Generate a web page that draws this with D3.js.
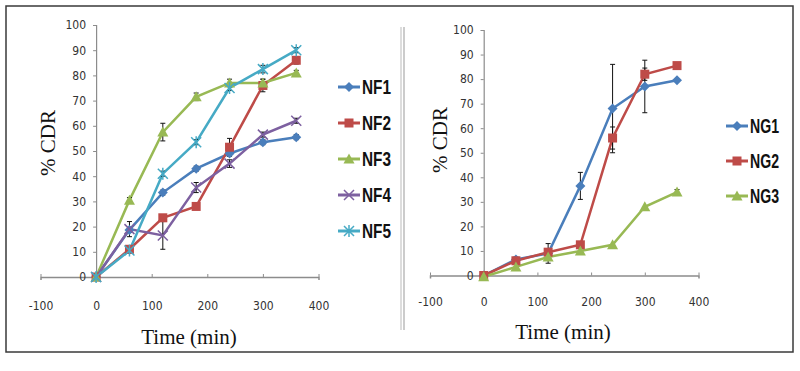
<!DOCTYPE html>
<html>
<head>
<meta charset="utf-8">
<script src="https://cdn.jsdelivr.net/npm/d3@7"></script>
<style>
  body { margin: 0; background: #fff; }
  .tick text { font-family: "Liberation Sans Narrow", "DejaVu Sans Condensed", "Arial Narrow", sans-serif; }
</style>
</head>
<body>
<div class="chart"></div>
<script>
// Drug release profiles, two panels (NF and NG formulations)

var svgWidth = 800;
var svgHeight = 371;

// sampling times (min)
var times = [0, 60, 120, 180, 240, 300, 360];
var xTicks = [-100, 0, 100, 200, 300, 400];
var yTicks = [0, 10, 20, 30, 40, 50, 60, 70, 80, 90, 100];

// left panel: % CDR
var nf1 = [0, 18.7, 33.5, 43, 49, 53.5, 55.5];
var nf2 = [0, 11, 23.5, 28, 51.5, 76, 86];
var nf3 = [0, 30.5, 57.5, 71.5, 77, 77, 81];
var nf4 = [0, 19, 16.5, 35.5, 45, 56.5, 62];
var nf5 = [0, 10.5, 41, 53.5, 75, 82.5, 90];
// left panel: error bar half widths
var nf1Err = [0, 1, 1, 1, 1, 1, 1];
var nf2Err = [0, 1, 1, 1, 3.5, 2.5, 1.5];
var nf3Err = [0, 1, 3.5, 1.5, 1.5, 1.5, 1];
var nf4Err = [0, 3, 5.5, 2, 1.5, 1, 1];
var nf5Err = [0, 1, 1, 1, 1, 1.5, 1];

// right panel: % CDR
var ng1 = [0, 6.5, 9, 36.5, 68, 77, 79.5];
var ng2 = [0, 6, 9.5, 12.5, 56, 82, 85.5];
var ng3 = [-0.5, 3.5, 7.5, 10, 12.5, 28, 34];
var ng1Err = [0, 1, 4, 5.5, 18, 10.7, 0.5];
var ng2Err = [0, 0.5, 0.5, 1, 4.5, 2.5, 0.5];
var ng3Err = [0, 0.5, 0.5, 0.5, 0.5, 0.5, 1];

var leftNames = ["NF1", "NF2", "NF3", "NF4", "NF5"];
var rightNames = ["NG1", "NG2", "NG3"];

var blue = "#4a7ebb", red = "#be4b48", green = "#98b954", purple = "#7d60a0", cyan = "#46aac5";

var leftSeries = [
  { name: leftNames[0], values: nf1, err: nf1Err, color: blue, marker: "diamond" },
  { name: leftNames[1], values: nf2, err: nf2Err, color: red, marker: "square" },
  { name: leftNames[2], values: nf3, err: nf3Err, color: green, marker: "triangle" },
  { name: leftNames[3], values: nf4, err: nf4Err, color: purple, marker: "x" },
  { name: leftNames[4], values: nf5, err: nf5Err, color: cyan, marker: "star" }
];
var rightSeries = [
  { name: rightNames[0], values: ng1, err: ng1Err, color: blue, marker: "diamond" },
  { name: rightNames[1], values: ng2, err: ng2Err, color: red, marker: "square" },
  { name: rightNames[2], values: ng3, err: ng3Err, color: green, marker: "triangle" }
];

var svg = d3.select(".chart")
  .append("svg")
  .attr("width", svgWidth)
  .attr("height", svgHeight);

// outer frame
svg.append("rect")
  .attr("x", 6).attr("y", 6)
  .attr("width", 787).attr("height", 346)
  .attr("fill", "none")
  .attr("stroke", "#3a3a3a")
  .attr("stroke-width", 1.5);

// separator between the two panels
svg.append("line")
  .attr("x1", 401).attr("x2", 401).attr("y1", 27).attr("y2", 330)
  .attr("stroke", "#bbb").attr("stroke-width", 1);
svg.append("line")
  .attr("x1", 404).attr("x2", 404).attr("y1", 27).attr("y2", 330)
  .attr("stroke", "#999").attr("stroke-width", 1);

// draws one marker symbol at (0,0)
function drawMarker(g, type, color) {
  if (type === "diamond") {
    g.append("path").attr("d", "M0,-5L5,0L0,5L-5,0Z").attr("fill", color);
  } else if (type === "square") {
    g.append("rect").attr("x", -4.5).attr("y", -4.5).attr("width", 9).attr("height", 9).attr("fill", color);
  } else if (type === "triangle") {
    g.append("path").attr("d", "M0,-5.5L5.5,4.5L-5.5,4.5Z").attr("fill", color);
  } else if (type === "x") {
    g.append("path").attr("d", "M-5,-5L5,5M-5,5L5,-5").attr("stroke", color).attr("stroke-width", 1.5);
  } else {
    g.append("path").attr("d", "M-5,-5L5,5M-5,5L5,-5M0,-6L0,6").attr("stroke", color).attr("stroke-width", 1.5);
  }
}

function drawPanel(cfg) {
  var xScale = d3.scaleLinear().domain([-100, 400]).range([cfg.x0, cfg.x1]);
  var yScale = d3.scaleLinear().domain([0, 100]).range([cfg.y0, cfg.y1]);

  var panel = svg.append("g");

  // x axis through y = 0
  var xAxis = panel.append("g")
    .attr("transform", `translate(0, ${yScale(0)})`)
    .call(d3.axisBottom(xScale).tickValues(xTicks).tickSize(3).tickPadding(cfg.xPad)
      .tickFormat(d => String(d)));
  xAxis.select(".domain").attr("stroke", "#8c8c8c").attr("stroke-width", 1.5);
  xAxis.selectAll(".tick line").attr("stroke", "#8c8c8c").attr("y1", -3).attr("y2", 0);
  xAxis.selectAll(".tick text").attr("fill", "#333").style("font-size", "12px");

  // y axis at x = 0
  var yAxis = panel.append("g")
    .attr("transform", `translate(${xScale(0)}, 0)`)
    .call(d3.axisLeft(yScale).tickValues(yTicks).tickSize(3).tickPadding(7));
  yAxis.select(".domain").attr("stroke", "#8c8c8c").attr("stroke-width", 1.2);
  yAxis.selectAll(".tick line").attr("stroke", "#8c8c8c");
  yAxis.selectAll(".tick text").attr("fill", "#333").style("font-size", "12px");

  // lines
  var line = d3.line()
    .x((d, i) => xScale(times[i]))
    .y(d => yScale(d));

  cfg.series.forEach(function(s) {
    panel.append("path")
      .attr("d", line(s.values))
      .attr("fill", "none")
      .attr("stroke", s.color)
      .attr("stroke-width", 2.5);
  });

  // error bars
  cfg.series.forEach(function(s) {
    s.values.forEach(function(v, i) {
      if (s.err[i] < 0.8) return;
      var x = xScale(times[i]);
      var top = yScale(v + s.err[i]);
      var bot = yScale(v - s.err[i]);
      panel.append("path")
        .attr("d", `M${x},${top}V${bot}M${x - 2.5},${top}H${x + 2.5}M${x - 2.5},${bot}H${x + 2.5}`)
        .attr("stroke", "#111")
        .attr("stroke-width", 1);
    });
  });

  // markers
  cfg.series.forEach(function(s) {
    s.values.forEach(function(v, i) {
      var g = panel.append("g")
        .attr("transform", `translate(${xScale(times[i])}, ${yScale(v)})`);
      drawMarker(g, s.marker, s.color);
    });
  });

  // axis titles
  panel.append("text")
    .attr("x", cfg.xTitleX)
    .attr("y", cfg.xTitleY)
    .attr("text-anchor", "middle")
    .style("font", "21px 'Liberation Serif', 'Times New Roman', serif")
    .attr("fill", "#111")
    .text("Time (min)");

  panel.append("text")
    .attr("transform", `translate(${cfg.yTitleX}, ${cfg.yTitleY}) rotate(-90)`)
    .attr("text-anchor", "middle")
    .style("font", "21px 'Liberation Serif', 'Times New Roman', serif")
    .attr("fill", "#111")
    .text("% CDR");

  // legend
  cfg.series.forEach(function(s, i) {
    var ly = cfg.legendY + i * cfg.legendStep;
    var lg = panel.append("g");
    lg.append("line")
      .attr("x1", cfg.legendX).attr("x2", cfg.legendX + 22)
      .attr("y1", ly).attr("y2", ly)
      .attr("stroke", s.color).attr("stroke-width", 3);
    var m = lg.append("g").attr("transform", `translate(${cfg.legendX + 11}, ${ly})`);
    drawMarker(m, s.marker, s.color);
    lg.append("text")
      .attr("x", cfg.legendX + 24)
      .attr("y", ly + 7)
      .attr("textLength", 29)
      .attr("lengthAdjust", "spacingAndGlyphs")
      .style("font", "bold 20px 'Liberation Sans Narrow', 'Liberation Sans', Arial, sans-serif")
      .attr("fill", "#111")
      .text(s.name);
  });
}

drawPanel({
  series: leftSeries,
  x0: 40.5, x1: 318.5, y0: 277, y1: 25,
  xPad: 21,
  xTitleX: 189, xTitleY: 344,
  yTitleX: 55, yTitleY: 143,
  legendX: 338, legendY: 87, legendStep: 36
});

drawPanel({
  series: rightSeries,
  x0: 430, x1: 698.5, y0: 275.5, y1: 30,
  xPad: 19,
  xTitleX: 563, xTitleY: 339,
  yTitleX: 447, yTitleY: 140,
  legendX: 726, legendY: 126, legendStep: 35
});
</script>
</body>
</html>
